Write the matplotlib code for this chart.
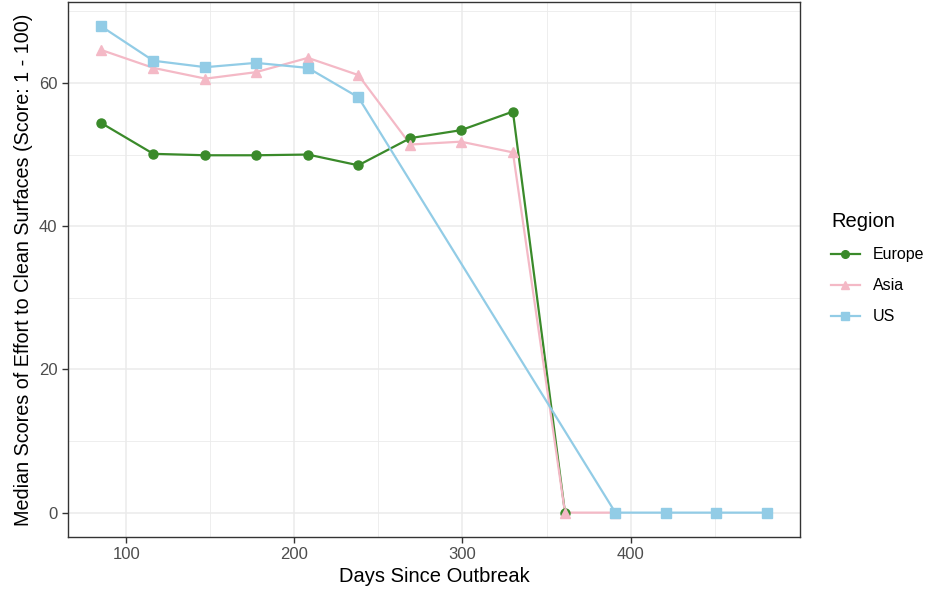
import matplotlib
matplotlib.use('Agg')
import matplotlib.pyplot as plt
from matplotlib.lines import Line2D

plt.rcParams['font.family'] = ['Liberation Sans', 'DejaVu Sans']

# Data
eu_days = [85, 116, 147, 177, 208, 238, 269, 299, 330, 361]
eu_score = [54.4, 50.1, 49.9, 49.9, 50.0, 48.5, 52.3, 53.4, 56.0, 0.0]

as_days = [85, 116, 147, 177, 208, 238, 269, 299, 330, 361, 391]
as_score = [64.6, 62.1, 60.6, 61.5, 63.5, 61.1, 51.4, 51.8, 50.3, 0.0, 0.0]

us_days = [85, 116, 147, 177, 208, 238, 391, 421, 451, 481]
us_score = [67.9, 63.1, 62.2, 62.8, 62.1, 58.0, 0.0, 0.0, 0.0, 0.0]

regions = ['Europe', 'Asia', 'US']
colors = ['#3a8a2a', '#f4b9c6', '#92cce6']
markers = ['o', '^', 's']

fig = plt.figure(figsize=(9.29, 5.91), dpi=100)
ax = fig.add_axes([0.0732, 0.0914, 0.7878, 0.9052])

series = [(eu_days, eu_score), (as_days, as_score), (us_days, us_score)]
handles = []
for (d, s), name, c, m in zip(series, regions, colors, markers):
    ax.plot(d, s, color=c, lw=1.6, zorder=3)
    ax.plot(d, s, ls='none', marker=m, ms=6.5, color=c, mec=c, zorder=4)
    handles.append(Line2D([], [], color=c, lw=1.6, marker=m, ms=5.5, label=name))

# axes limits like ggplot's 5% expansion
ax.set_xlim(65.2, 500.8)
ax.set_ylim(-3.4, 71.3)
ax.set_xticks([100, 200, 300, 400])
ax.set_yticks([0, 20, 40, 60])
ax.set_xticks([150, 250, 350, 450], minor=True)
ax.set_yticks([10, 30, 50, 70], minor=True)

ax.grid(which='major', color='#ebebeb', lw=1.1, zorder=0)
ax.grid(which='minor', color='#ebebeb', lw=0.6, zorder=0)
ax.set_axisbelow(True)
for sp in ax.spines.values():
    sp.set_color('#333333')
    sp.set_linewidth(1.0)
ax.tick_params(which='major', length=4, color='#333333', labelsize=12,
               labelcolor='#4d4d4d', width=1.0)
ax.tick_params(which='minor', length=0)

ax.set_xlabel('Days Since Outbreak', fontsize=14.5, labelpad=3)
ax.set_ylabel('Median Scores of Effort to Clean Surfaces (Score: 1 - 100)',
              fontsize=14.2, labelpad=4)

fig.legend(handles=handles, title='Region', loc='upper left',
           bbox_to_anchor=(0.879, 0.665), frameon=False, fontsize=11.5,
           title_fontsize=14.5, handlelength=1.8, labelspacing=1.0,
           alignment='left')

fig.savefig('out.png', dpi=100)
